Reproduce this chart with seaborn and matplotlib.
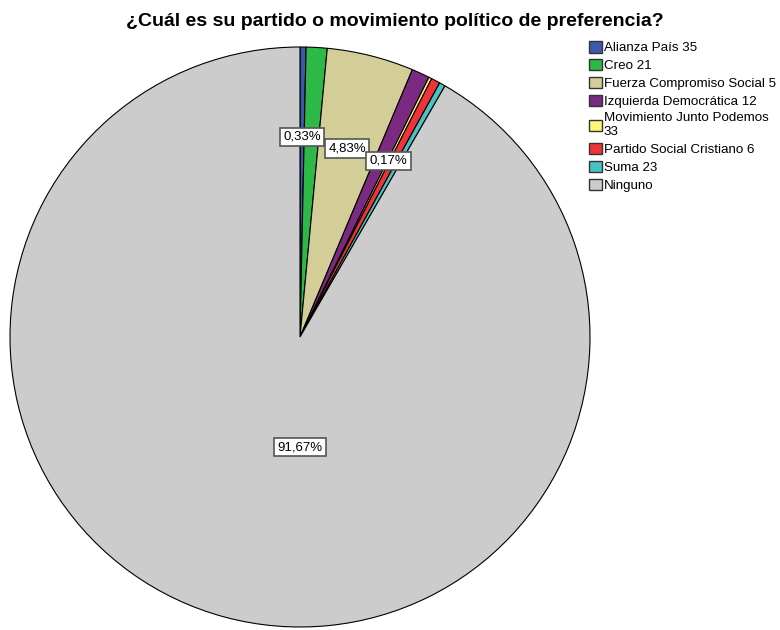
import numpy as np
import pandas as pd
import seaborn as sns
import matplotlib.pyplot as plt
from matplotlib.patches import Patch

# datos (conteos sobre 600 encuestados)
partidos = ['Alianza País 35', 'Creo 21', 'Fuerza Compromiso Social 5',
            'Izquierda Democrática 12', 'Movimiento Junto Podemos\n33',
            'Partido Social Cristiano 6', 'Suma 23', 'Ninguno']
conteos = [2, 7, 29, 6, 1, 3, 2, 550]
colores = ['#3E58AC', '#2EB848', '#D3CE97', '#7B2A81',
           '#FBF873', '#EF3338', '#48C2C5', '#CCCCCC']
# que porcentajes se muestran y a que radio
mostrar = [True, False, True, False, True, False, False, True]
radio_etiqueta = [0.69, 0.68, 0.67, 0.68, 0.68, 0.68, 0.68, 0.38]

datos = pd.DataFrame({'partido': partidos, 'n': conteos})
datos['pct'] = datos['n'] / datos['n'].sum() * 100

sns.set_theme(style='white')
plt.rcParams['font.family'] = ['Liberation Sans', 'DejaVu Sans']
plt.rcParams['text.color'] = 'black'

fig = plt.figure(figsize=(7.8, 6.3), dpi=100)
ax = fig.add_axes([10 / 780, 3 / 630, 580 / 780, 580 / 630])

wedges, _ = ax.pie(datos['n'], colors=colores, startangle=90, counterclock=False,
                   wedgeprops=dict(edgecolor='black', linewidth=0.8))
ax.set_xlim(-1, 1)
ax.set_ylim(-1, 1)
ax.set_aspect('equal')

for w, pct, ok, r in zip(wedges, datos['pct'], mostrar, radio_etiqueta):
    if not ok:
        continue
    ang = np.deg2rad((w.theta1 + w.theta2) / 2)
    if pct > 50:
        ang = np.deg2rad(-90)
    txt = f'{pct:.2f}%'.replace('.', ',')
    ax.text(r * np.cos(ang), r * np.sin(ang), txt, ha='center', va='center',
            fontsize=9.5, bbox=dict(boxstyle='square,pad=0.25', facecolor='white',
                                    edgecolor='#555555', linewidth=1.2))

fig.suptitle('¿Cuál es su partido o movimiento político de preferencia?',
             x=0.506, y=0.98, fontsize=14, fontweight='bold', color='black')

handles = [Patch(facecolor=c, edgecolor='#333333', linewidth=1) for c in colores]
fig.legend(handles, partidos, loc='upper left', bbox_to_anchor=(589 / 780, 1 - 41 / 630),
           frameon=False, fontsize=9.6, handlelength=0.95, handleheight=0.95,
           handletextpad=0.15, labelspacing=0.34, borderaxespad=0, borderpad=0,
           labelcolor='black')

fig.savefig('out.png', dpi=100)
